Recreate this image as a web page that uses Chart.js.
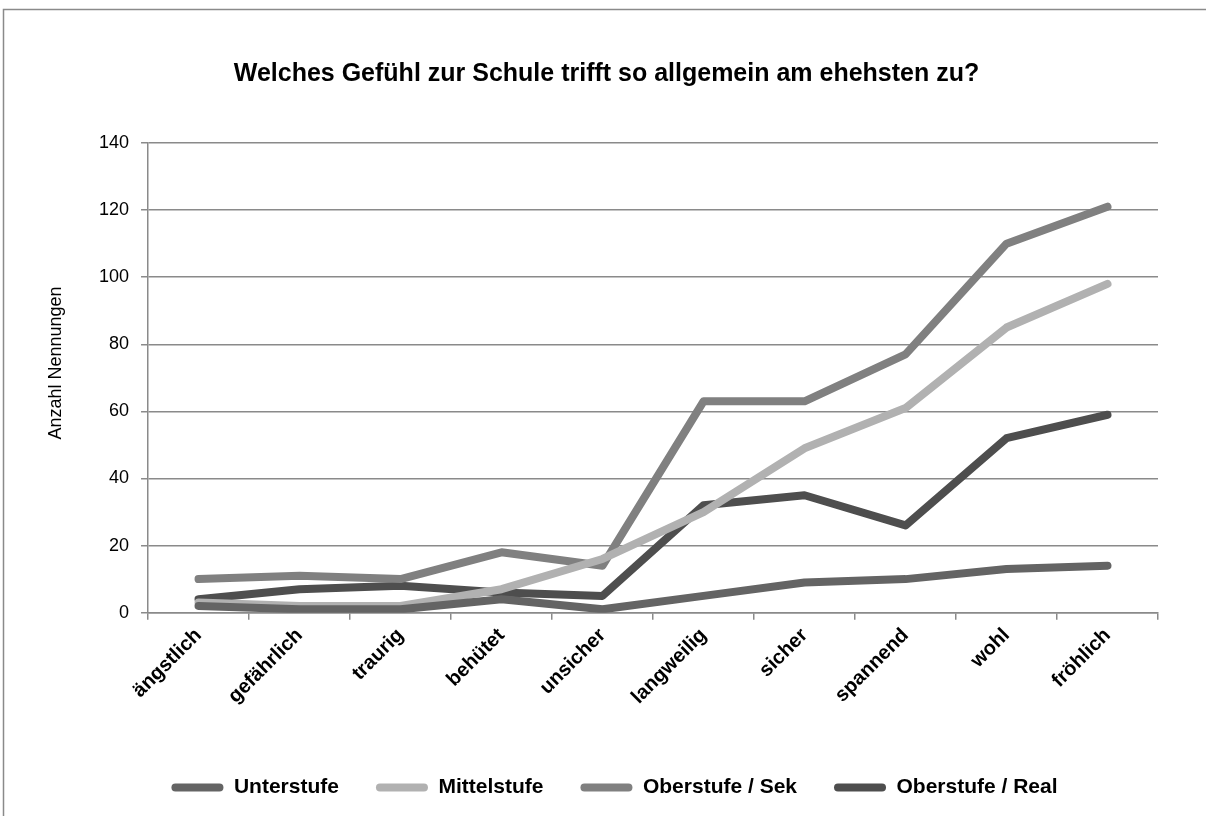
<!DOCTYPE html>
<html><head><meta charset="utf-8">
<script src="https://cdn.jsdelivr.net/npm/chart.js@4/dist/chart.umd.min.js"></script>
<style>html,body{margin:0;padding:0;background:#fff;}#wrap{width:1212px;height:816px;position:relative;}</style>
</head><body><div id="wrap"><canvas id="c" width="1212" height="816"></canvas></div>
<script>
const categories = ["ängstlich","gefährlich","traurig","behütet","unsicher","langweilig","sicher","spannend","wohl","fröhlich"];
const unterstufe = [2,1,1,4,1,5,9,10,13,14];
const mittelstufe = [3,2,2,7,16,30,49,61,85,98];
const oberstufeSek = [10,11,10,18,14,63,63,77,110,121];
const oberstufeReal = [4,7,8,6,5,32,35,26,52,59];
const seriesNames = ["Unterstufe","Mittelstufe","Oberstufe / Sek","Oberstufe / Real"];
const seriesColors = ["#646464","#b1b1b1","#808080","#4e4e4e"];
const yTicks = {min:0,max:140,step:20};
const yAxisTitle = 'Anzahl Nennungen';

const FONT='"Liberation Sans", Arial, sans-serif';
const frame = {id:'frame',
  beforeDraw(chart){const c=chart.ctx;c.save();c.strokeStyle='#8a8a8a';c.lineWidth=1.5;c.beginPath();c.moveTo(3.5,830);c.lineTo(3.5,9.5);c.lineTo(1206,9.5);c.stroke();c.restore();},
  afterLayout(chart){if(chart.legend){chart.legend.left+=8;chart.legend.right+=8;}},
  afterDraw(chart){const c=chart.ctx;c.save();c.fillStyle='#000';c.font='18px '+FONT;c.textAlign='center';c.textBaseline='middle';
    c.translate(56,363);c.rotate(-Math.PI/2);c.fillText(yAxisTitle,0,0);c.restore();}
};

const ds = [unterstufe,mittelstufe,oberstufeSek,oberstufeReal].map((d,i)=>({
  label:seriesNames[i],data:d,borderColor:seriesColors[i],backgroundColor:seriesColors[i],
  borderWidth:8,pointRadius:0,tension:0,borderCapStyle:'round',borderJoinStyle:'round'}));

new Chart(document.getElementById('c'),{
  type:'line',
  data:{labels:categories,datasets:ds},
  plugins:[frame],
  options:{
    responsive:false,animation:false,
    layout:{padding:{left:55,right:54,top:40,bottom:8}},
    plugins:{
      title:{display:true,text:'Welches Gefühl zur Schule trifft so allgemein am ehehsten zu?',color:'#000',
        font:{family:FONT,size:25,weight:'bold'},padding:{top:19,bottom:54}},
      legend:{position:'bottom',labels:{color:'#000',boxWidth:52,boxHeight:8,padding:37,
        font:{family:FONT,size:21,weight:'bold'},
        generateLabels(chart){return chart.data.datasets.map((d,i)=>({text:d.label,fillStyle:d.borderColor,strokeStyle:d.borderColor,lineWidth:0,borderRadius:4,datasetIndex:i,fontColor:'#000'}));}}},
      tooltip:{enabled:false}
    },
    scales:{
      x:{offset:true,grid:{offset:true,drawOnChartArea:false,color:'#8a8a8a',tickLength:7,lineWidth:1.5},
        border:{color:'#8a8a8a',width:1.5},
        afterFit(scale){scale.height+=27;},
        ticks:{color:'#000',maxRotation:45,minRotation:45,padding:4,font:{family:FONT,size:20,weight:'bold'}}},
      y:{min:yTicks.min,max:yTicks.max,
        grid:{color:'#8a8a8a',lineWidth:1.5,tickLength:7},
        border:{color:'#8a8a8a',width:1.5},
        afterFit(scale){scale.width+=32;},
        ticks:{stepSize:yTicks.step,color:'#000',padding:12,font:{family:FONT,size:18}},
        title:{display:false}}
    }
  }
});
</script></body></html>
